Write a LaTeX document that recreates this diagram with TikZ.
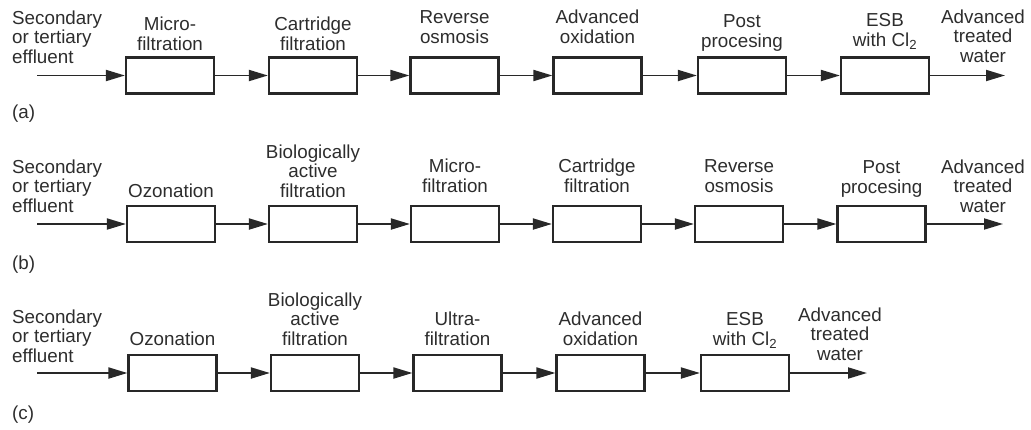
\documentclass[tikz,border=0pt]{standalone}
\usepackage{fontspec}
\setmainfont{Liberation Sans}
\usetikzlibrary{arrows.meta}
\definecolor{ink}{RGB}{40,40,40}
\definecolor{txt}{RGB}{45,45,45}
\tikzset{
  stagebox/.style={draw=ink, line width=2.2pt, minimum width=88pt, minimum height=36pt, inner sep=0pt},
  flow/.style={draw=ink, line width=1.9pt, -{Triangle[length=19pt,width=11pt]}},
  lbl/.style={text=txt, font=\fontsize{18.8pt}{19.5pt}\selectfont, align=center, anchor=base, inner sep=0pt},
  lbll/.style={text=txt, font=\fontsize{18.8pt}{19.5pt}\selectfont, align=left, anchor=base west, inner sep=0pt},
}
\begin{document}
\begin{tikzpicture}[x=1pt,y=-1pt]
\useasboundingbox (0,0) rectangle (1031,429);
% ---------- row (a)
\node[stagebox] (a1) at (170,75.5) {};
\node[stagebox] (a2) at (313,75.5) {};
\node[stagebox] (a3) at (454.5,75.5) {};
\node[stagebox] (a4) at (597.5,75.5) {};
\node[stagebox] (a5) at (742,75.5) {};
\node[stagebox] (a6) at (885,75.5) {};
\coordinate (ain) at (37,75.5);
\coordinate (aout) at (1005,75.5);
\node[lbll] (ainl) at (12,63) {Secondary\\or tertiary\\effluent};
\node[lbl] (a1l) at (170,50) {Micro-\\filtration};
\node[lbl] (a2l) at (313,50) {Cartridge\\filtration};
\node[lbl] (a3l) at (454.5,43) {Reverse\\osmosis};
\node[lbl] (a4l) at (597.5,43) {Advanced\\oxidation};
\node[lbl] (a5l) at (742,47) {Post\\procesing};
\node[lbl] (a6l) at (885,46) {ESB\\with Cl\textsubscript{2}};
\node[lbl] (aoutl) at (983,62) {Advanced\\treated\\water};
\node[lbll] (atag) at (12,118) {(a)};
\draw[flow] (ain) -- (a1);
\draw[flow] (a1) -- (a2);
\draw[flow] (a2) -- (a3);
\draw[flow] (a3) -- (a4);
\draw[flow] (a4) -- (a5);
\draw[flow] (a5) -- (a6);
\draw[flow] (a6) -- (aout);
% ---------- row (b)
\node[stagebox] (b1) at (171,224) {};
\node[stagebox] (b2) at (313,224) {};
\node[stagebox] (b3) at (455,224) {};
\node[stagebox] (b4) at (597,224) {};
\node[stagebox] (b5) at (739,224) {};
\node[stagebox] (b6) at (881.5,224) {};
\coordinate (bin) at (37,224);
\coordinate (bout) at (1003,224);
\node[lbll] (binl) at (12,212) {Secondary\\or tertiary\\effluent};
\node[lbl] (b1l) at (171,197) {Ozonation};
\node[lbl] (b2l) at (313,197) {Biologically\\active\\filtration};
\node[lbl] (b3l) at (455,192) {Micro-\\filtration};
\node[lbl] (b4l) at (597,192) {Cartridge\\filtration};
\node[lbl] (b5l) at (739,192) {Reverse\\osmosis};
\node[lbl] (b6l) at (881.5,193) {Post\\procesing};
\node[lbl] (boutl) at (983,212) {Advanced\\treated\\water};
\node[lbll] (btag) at (12,269) {(b)};
\draw[flow] (bin) -- (b1);
\draw[flow] (b1) -- (b2);
\draw[flow] (b2) -- (b3);
\draw[flow] (b3) -- (b4);
\draw[flow] (b4) -- (b5);
\draw[flow] (b5) -- (b6);
\draw[flow] (b6) -- (bout);
% ---------- row (c)
\node[stagebox] (c1) at (172.5,373) {};
\node[stagebox] (c2) at (315,373) {};
\node[stagebox] (c3) at (457.5,373) {};
\node[stagebox] (c4) at (600.5,373) {};
\node[stagebox] (c5) at (745,373) {};
\coordinate (cin) at (37,373);
\coordinate (cout) at (867,373);
\node[lbll] (cinl) at (12,362) {Secondary\\or tertiary\\effluent};
\node[lbl] (c1l) at (172.5,345) {Ozonation};
\node[lbl] (c2l) at (315,345) {Biologically\\active\\filtration};
\node[lbl] (c3l) at (457.5,345) {Ultra-\\filtration};
\node[lbl] (c4l) at (600.5,345) {Advanced\\oxidation};
\node[lbl] (c5l) at (745,345) {ESB\\with Cl\textsubscript{2}};
\node[lbl] (coutl) at (840,360) {Advanced\\treated\\water};
\node[lbll] (ctag) at (12,419) {(c)};
\draw[flow] (cin) -- (c1);
\draw[flow] (c1) -- (c2);
\draw[flow] (c2) -- (c3);
\draw[flow] (c3) -- (c4);
\draw[flow] (c4) -- (c5);
\draw[flow] (c5) -- (cout);
\end{tikzpicture}
\end{document}
